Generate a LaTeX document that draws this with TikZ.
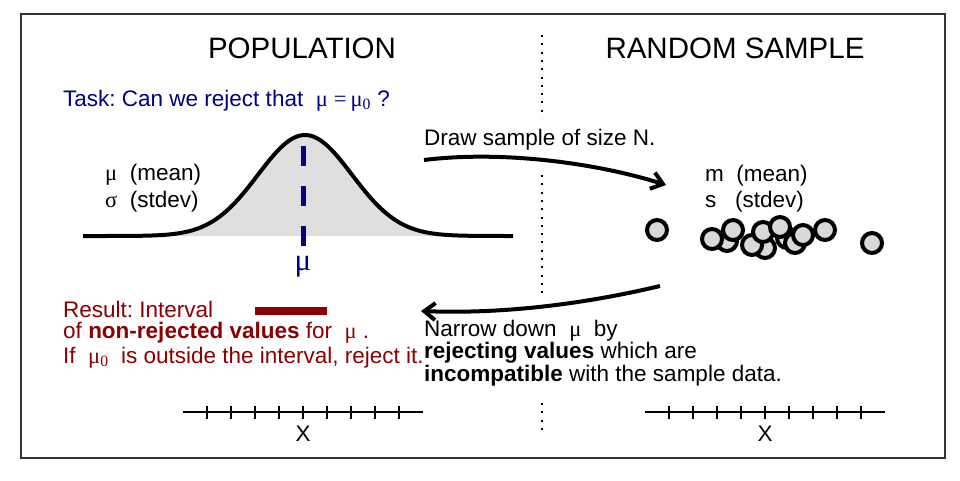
\documentclass[tikz,border=0pt]{standalone}
\usepackage{fontspec}
\setmainfont{Liberation Sans}
\newfontfamily\greekfont{Liberation Serif}
\usetikzlibrary{arrows.meta}
\definecolor{navytext}{HTML}{000080}
\definecolor{resultred}{HTML}{8B0000}
\definecolor{dotgray}{HTML}{D9D9D9}
\frenchspacing
\newcommand{\mug}{{\greekfont μ}}
\newcommand{\xaxis}[3]{%
  \draw[line width=2pt] (#1-120,412) -- (#1+120,412);
  \foreach \k in {-4,...,4} {
    \draw[line width=1.5pt] (#1+24*\k,405.5) -- (#1+24*\k,418.5);
  }
  \node[anchor=base] (#2) at (#1,441) {#3};
}

\begin{document}
\begin{tikzpicture}[x=1pt,y=-1pt,
  every node/.style={inner sep=0pt,font=\fontsize{22.5}{19}\selectfont},
  heading/.style={anchor=base,font=\fontsize{29.5}{32}\selectfont},
  pointer/.style={line width=4pt,-{Straight Barb[length=11pt,width=17pt]}},
  sampledot/.style={draw=black,fill=dotgray,line width=4pt}]
  \useasboundingbox (0,0) rectangle (960,480);
  \draw[line width=2.5pt,black!80] (21,14) rectangle (945,458);
  \foreach \ya/\yb in {35/118,175/296,403/435} {
    \draw[line width=2pt,dash pattern=on 2pt off 6.3pt] (542,\ya) -- (542,\yb);
  }

  \node[heading] (pophead) at (302,58) {POPULATION};
  \node[heading] (samphead) at (735,58) {RANDOM SAMPLE};
  \node[anchor=base west,text=navytext] (task) at (63,106)
    {Task: Can we reject that \ {\greekfont μ\kern6pt=\kern4pt μ\textsubscript{0}} ?};

  \fill[gray!25,domain=83:513,samples=120]
    plot (\x,{236-101*exp(-((\x-305)/47)^2/2)}) -- cycle;
  \draw[line width=4pt,line join=round,domain=83:513,samples=120]
    plot (\x,{236-101*exp(-((\x-305)/47)^2/2)});
  \draw[navytext,line width=5pt,dash pattern=on 20pt off 20pt] (303,146) -- (303,246);
  \node[anchor=base,text=navytext,font=\greekfont\fontsize{31}{31}\selectfont]
    (mulabel) at (303,270) {μ};
  \node[anchor=base west] (popmean) at (105,180) {\mug\ \ (mean)};
  \node[anchor=base west] (popsd) at (105,207) {{\greekfont σ}\ \ (stdev)};

  \node[anchor=base west] (drawtext) at (424,145) {Draw sample of size N.};
  \coordinate (drawfrom) at (424,160);
  \coordinate (drawto) at (666,185);
  \draw[pointer] (drawfrom) .. controls (505,150) and (600,164) .. (drawto);

  \node[anchor=base west] (sampmean) at (705,181) {m\ \ (mean)};
  \node[anchor=base west] (sampsd) at (705,207) {s\ \ \ (stdev)};
  \foreach \cx/\cy in {657/230,727/241,733/230,712/239,765/248,752/245,
    763/232,787/238,780/227,795/243,803/235,825/230,872/243} {
    \draw[sampledot] (\cx,\cy) circle (10pt);
  }

  \coordinate (narrowfrom) at (660,286);
  \coordinate (narrowto) at (421,311);
  \draw[pointer] (narrowfrom) .. controls (580,305) and (500,314) .. (narrowto);
  \node[anchor=base west,align=left] (narrowtext) at (424,381)
    {Narrow down \ \mug\ \ by\\
     \textbf{rejecting values} which are\\
     \textbf{incompatible} with the sample data.};

  \draw[resultred,line width=8pt] (255,311) -- (327,311);
  \node[anchor=base west,text=resultred] (result1) at (63,317) {Result: Interval};
  \node[anchor=base west,text=resultred] (result2) at (63,338)
    {of \textbf{non-rejected values} for \ \mug\ .};
  \node[anchor=base west,text=resultred] (result3) at (63,363)
    {If \ {\greekfont μ\textsubscript{0}} \ is outside the interval, reject it.};

  \xaxis{303}{popaxis}{X}
  \xaxis{765}{sampaxis}{X}
\end{tikzpicture}
\end{document}
